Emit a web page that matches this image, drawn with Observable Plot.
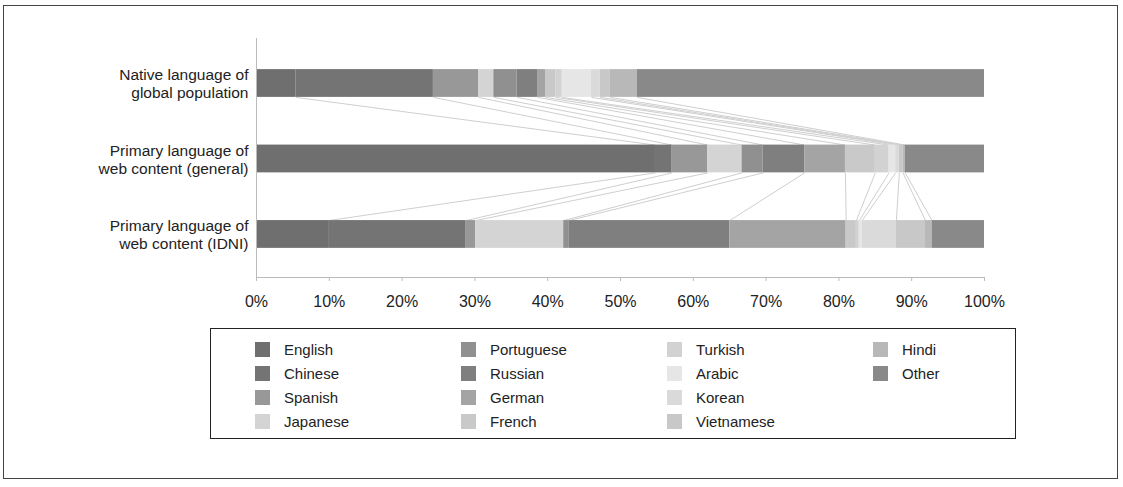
<!DOCTYPE html>
<html>
<head>
<meta charset="utf-8">
<script src="https://cdn.jsdelivr.net/npm/d3@7"></script>
<script src="https://cdn.jsdelivr.net/npm/@observablehq/plot@0.6"></script>
<style>
  html, body { margin: 0; padding: 0; background: #fff; }
  #wrap { position: relative; width: 1123px; height: 487px; font-family: "Liberation Sans", Arial, sans-serif; color: #222; }
  #border { position: absolute; left: 3px; top: 5px; width: 1115px; height: 474px; border: 1px solid #444; box-sizing: border-box; }
  #chart { position: absolute; left: 0; top: 0; }
  #legend { position: absolute; left: 210px; top: 328px; width: 806px; height: 111px; border: 1px solid #222; box-sizing: border-box;
            display: grid; grid-auto-flow: column; grid-template-rows: repeat(4, 24px); grid-template-columns: repeat(4, 206px);
            padding-left: 44px; padding-top: 8px; font-size: 15px; }
  .item { display: flex; align-items: center; }
  .sw { width: 15px; height: 15px; margin-right: 14px; flex: none; }
</style>
</head>
<body>
<div id="wrap">
  <div id="border"></div>
  <div id="chart"></div>
  <div id="legend"></div>
</div>
<script>
const languages = ["English","Chinese","Spanish","Japanese","Portuguese","Russian","German","French","Turkish","Arabic","Korean","Vietnamese","Hindi","Other"];
const colors = ["#6f6f6f","#747474","#989898","#d4d4d4","#909090","#7f7f7f","#a4a4a4","#c9c9c9","#d2d2d2","#e6e6e6","#dadada","#c8c8c8","#b8b8b8","#898989"];
const rowLabels = ["Native language of\nglobal population","Primary language of\nweb content (general)","Primary language of\nweb content (IDNI)"];
const nativeShares     = [5.4, 18.9, 6.2, 2.1, 3.2, 2.8, 1.1, 1.4, 0.9, 4.0, 1.2, 1.4, 3.7, 47.7];
const webGeneralShares = [54.8, 2.3, 4.9, 4.7, 2.9, 5.7, 5.6, 4.1, 1.9, 0.9, 0.5, 0.5, 0.3, 10.9];
const webIdniShares    = [9.9, 18.9, 1.3, 12.1, 0.7, 22.1, 16.0, 1.4, 0.4, 0.4, 4.7, 4.0, 0.9, 7.2];
const xTicks = [0,10,20,30,40,50,60,70,80,90,100];

const seriesList = [nativeShares, webGeneralShares, webIdniShares];
const half = 0.184;
const segments = [];
const cumByRow = [];
seriesList.forEach((vals, r) => {
  let c = 0;
  const cums = [];
  vals.forEach((v, i) => {
    segments.push({row: r, lang: languages[i], x1: c, x2: c + v});
    c += v;
    cums.push(c);
  });
  cumByRow.push(cums);
});
const links = [];
for (let r = 0; r < seriesList.length - 1; r++) {
  for (let i = 0; i < languages.length - 1; i++) {
    links.push({x1: cumByRow[r][i], y1: r + 0.5 + half, x2: cumByRow[r+1][i], y2: r + 1.5 - half});
  }
}
const labels = rowLabels.map((t, r) => ({t, y: r + 0.5}));
const yDom = [-0.096, 3.07];

const plot = Plot.plot({
  width: 1123,
  height: 320,
  marginLeft: 256,
  marginRight: 139,
  marginTop: 38,
  marginBottom: 43,
  style: {fontFamily: "Liberation Sans, Arial, sans-serif", fontSize: "15px", color: "#222", background: "transparent"},
  x: {domain: [0, 100], label: null},
  y: {domain: yDom, reverse: true, axis: null},
  color: {type: "ordinal", domain: languages, range: colors},
  marks: [
    Plot.link(links, {x1: "x1", y1: "y1", x2: "x2", y2: "y2", stroke: "#cfcfcf", strokeWidth: 1}),
    Plot.rect(segments, {x1: "x1", x2: "x2", y1: d => d.row + 0.5 - half, y2: d => d.row + 0.5 + half, fill: "lang"}),
    Plot.ruleX([0], {stroke: "#bbb"}),
    Plot.ruleY([yDom[1]], {stroke: "#bbb"}),
    Plot.axisX({ticks: xTicks, tickFormat: d => d + "%", tickSize: 4, tickPadding: 14, stroke: "#bbb", fill: "#222", fontSize: 16, label: null}),
    Plot.text(labels, {x: 0, y: "y", text: "t", dx: -8, textAnchor: "end", lineHeight: 1.18, fontSize: 15.5, fill: "#222"})
  ]
});
document.getElementById("chart").appendChild(plot);

const legend = document.getElementById("legend");
languages.forEach((l, i) => {
  const it = document.createElement("div");
  it.className = "item";
  const sw = document.createElement("span");
  sw.className = "sw";
  sw.style.background = colors[i];
  const tx = document.createElement("span");
  tx.textContent = l;
  it.appendChild(sw); it.appendChild(tx);
  legend.appendChild(it);
});
</script>
</body>
</html>
